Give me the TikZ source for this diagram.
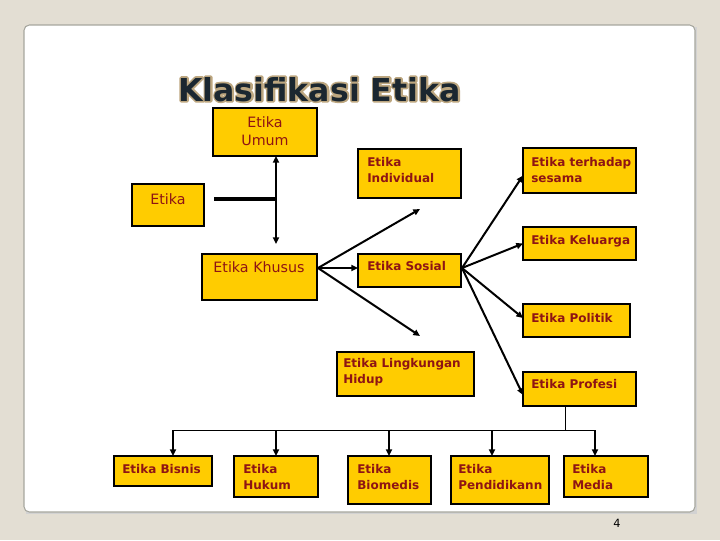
\documentclass[tikz,border=0pt]{standalone}
\usepackage{fontspec}
\setmainfont{DejaVu Sans}
\usetikzlibrary{arrows.meta,calc}
\definecolor{bgc}{HTML}{E3DED3}
\definecolor{boxfill}{HTML}{FFCC00}
\definecolor{txtred}{HTML}{8E1414}
\definecolor{cardline}{HTML}{A6A69E}
\definecolor{titledark}{HTML}{1B2730}
\definecolor{titleedge}{HTML}{C2AC84}
\newcommand\tlft[1]{\begin{tabular}[t]{@{}l@{}}#1\end{tabular}}
\newcommand\tctr[1]{\begin{tabular}[t]{@{}c@{}}#1\end{tabular}}
\newcommand\outlinedtext[1]{\rlap{\special{pdf:literal direct q 1 Tr 2.6 w 1 J 1 j 0.74 0.655 0.50 RG}#1\special{pdf:literal direct Q}}#1}
\newcommand\ebox[5]{\node[box, minimum width={(#4-#2)*0.75pt}, minimum height={(#5-#3)*0.75pt}] (#1) at ({(#2+#4)/2},{(#3+#5)/2}) {};}
\tikzset{
  box/.style={draw=black, line width=0.8pt, fill=boxfill, inner sep=0pt, outer sep=0pt},
  bt/.style={font=\bfseries\fontsize{9}{12.2}\selectfont, text=txtred, anchor=base west, inner sep=0pt},
  rt/.style={font=\fontsize{10.7}{14.2}\selectfont, text=txtred, anchor=base, inner sep=0pt},
  arr/.style={line width=1.5pt, -{Triangle[length=5pt,width=4.5pt]}},
  busline/.style={line width=1.2pt},
  thinline/.style={line width=0.75pt},
  thickline/.style={line width=2.8pt},
}
\begin{document}
\begin{tikzpicture}[x=0.75pt,y=-0.75pt]
\useasboundingbox (0,0) rectangle (720,540);
\fill[bgc] (0,0) rectangle (720,540);
% card
\fill[gray!35] (26,27) rectangle (697,514);
\filldraw[fill=white, draw=cardline, line width=0.8pt, rounded corners=4pt] (24,25) rectangle (695,512);
\node[font=\fontsize{8.5}{10}\selectfont, inner sep=0pt] (pagenum) at (617,523) {4};
% title
\node[font=\bfseries\fontsize{23.7}{28}\selectfont, text=titledark, anchor=base west, inner sep=0pt] (title) at (178,101) {\outlinedtext{Klasifikasi Etika}};
% boxes
\ebox{umum}{213}{108}{317}{156}
\ebox{etika}{132}{184}{204}{226}
\ebox{khusus}{202}{254}{317}{300}
\ebox{indiv}{358}{149}{461}{198}
\ebox{terhadap}{523}{148}{636}{193}
\ebox{keluarga}{523}{227}{636}{260}
\ebox{sosial}{358}{254}{461}{287}
\ebox{politik}{523}{304}{630}{337}
\ebox{ling}{337}{352}{474}{396}
\ebox{profesi}{523}{372}{636}{406}
\ebox{bisnis}{114}{456}{212}{486}
\ebox{hukum}{234}{456}{318}{497}
\ebox{biomedis}{348}{456}{431}{504}
\ebox{pendid}{451}{456}{549}{504}
\ebox{media}{564}{456}{648}{497}
% texts
\node[rt] (umum-t) at (265,127) {\tctr{Etika\\Umum}};
\node[rt] (etika-t) at (168,204) {Etika};
\node[rt] (khusus-t) at (259,272) {Etika Khusus};
\node[bt] (indiv-t) at (367,166.5) {\tlft{Etika\\Individual}};
\node[bt] (terhadap-t) at (531,166) {\tlft{Etika terhadap\\sesama}};
\node[bt] (keluarga-t) at (531,244) {Etika Keluarga};
\node[bt] (sosial-t) at (367,270) {Etika Sosial};
\node[bt] (politik-t) at (531,322) {Etika Politik};
\node[bt] (profesi-t) at (531,388) {Etika Profesi};
\node[bt] (ling-t) at (343,367) {\tlft{Etika Lingkungan\\Hidup}};
\node[bt] (bisnis-t) at (122,473) {Etika Bisnis};
\node[bt] (hukum-t) at (243,473) {\tlft{Etika\\Hukum}};
\node[bt] (biomedis-t) at (357,473) {\tlft{Etika\\Biomedis}};
\node[bt] (pendid-t) at (458,473) {\tlft{Etika\\Pendidikann}};
\node[bt] (media-t) at (572,473) {\tlft{Etika\\Media}};
% upper junction
\coordinate (eS) at ($(etika.east)+(10,-6)$);
\coordinate (jn) at (276,199);
\coordinate (jbot) at (276,244);
\draw[thickline] (eS) -- ($(jn)+(1,0)$);
\draw[arr] (jn) -- (umum.south -| jn);
\draw[arr] (jn) -- (jbot);
% from Etika Khusus
\coordinate (khO) at ($(khusus.north east)+(1,14)$);
\coordinate (indTip) at (420,209);
\coordinate (lingTip) at (420,336);
\draw[arr] (khO) -- (indTip);
\draw[arr] (khO) -- (sosial.west |- khO);
\draw[arr] (khO) -- (lingTip);
% from Etika Sosial
\coordinate (sO) at ($(sosial.east)+(1,-2.5)$);
\draw[arr] (sO) -- ($(terhadap.west)+(0,5)$);
\draw[arr] (sO) -- (keluarga.west);
\draw[arr] (sO) -- ($(politik.west)+(0,-2.5)$);
\draw[arr] (sO) -- ($(profesi.west)+(0,6)$);
% bottom tree
\coordinate (pfB) at ($(profesi.south)+(-14.5,0)$);
\coordinate (bus) at (565,430.5);
\coordinate (b1) at (173,430.5);
\coordinate (b2) at (276,430.5);
\coordinate (b3) at (389,430.5);
\coordinate (b4) at (492,430.5);
\coordinate (b5) at (595,430.5);
\draw[thinline] (pfB) -- (bus);
\draw[busline] ($(b1)+(-0.6,0)$) -- ($(b5)+(0.6,0)$);
\draw[arr] (b1) -- (b1 |- bisnis.north);
\draw[arr] (b2) -- (b2 |- hukum.north);
\draw[arr] (b3) -- (b3 |- biomedis.north);
\draw[arr] (b4) -- (b4 |- pendid.north);
\draw[arr] (b5) -- (b5 |- media.north);
\end{tikzpicture}
\end{document}
